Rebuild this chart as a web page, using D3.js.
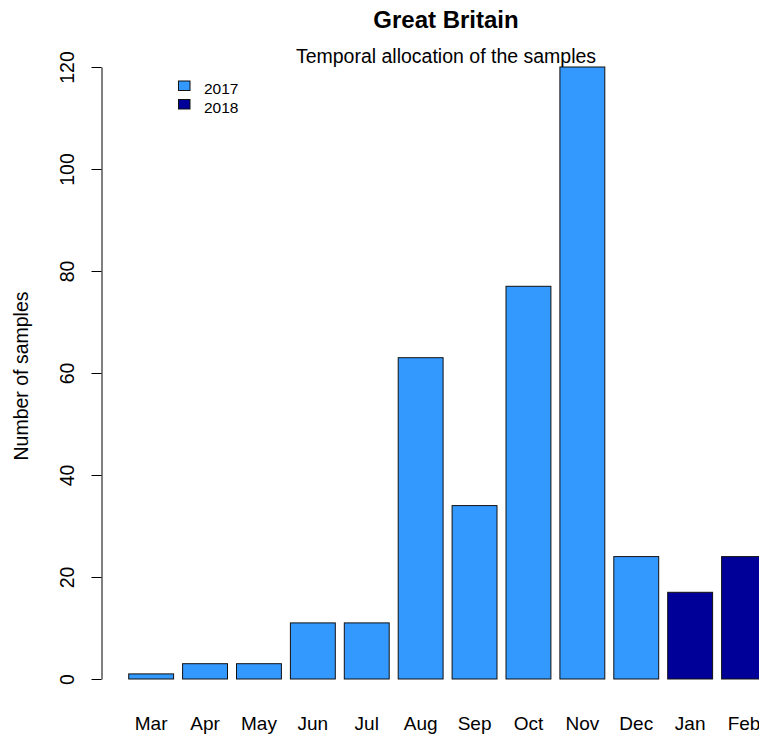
<!DOCTYPE html>
<html>
<head>
<meta charset="utf-8">
<script src="https://cdn.jsdelivr.net/npm/d3@7"></script>
<style>
  html, body { margin: 0; padding: 0; background: #fff; }
  svg { display: block; font-family: "Liberation Sans", Arial, sans-serif; }
</style>
</head>
<body>
<svg id="chart" width="759" height="736"></svg>
<script>
// Samples per month, March 2017 to February 2018
const months = ["Mar", "Apr", "May", "Jun", "Jul", "Aug", "Sep", "Oct", "Nov", "Dec", "Jan", "Feb"];
const samples = [1, 3, 3, 11, 11, 63, 34, 77, 120, 24, 17, 24];
const years = ["2017", "2017", "2017", "2017", "2017", "2017", "2017", "2017", "2017", "2017", "2018", "2018"];
const legendYears = ["2017", "2018"];
const yTicks = [0, 20, 40, 60, 80, 100, 120];

const colour = d3.scaleOrdinal().domain(legendYears).range(["#3399FF", "#000099"]);

const svg = d3.select("#chart");

// Bars: width 1 unit, space 0.2 units between them
const step = 53.9;
const pad = 9 / step;
const x = d3.scaleBand()
  .domain(months)
  .range([128.7 - pad / 2 * step, 128.7 - pad / 2 * step + months.length * step])
  .paddingInner(pad)
  .paddingOuter(pad / 2);

const y = d3.scaleLinear().domain([0, 120]).range([679, 67]);

// Bars
svg.append("g")
  .selectAll("rect")
  .data(months)
  .join("rect")
  .attr("x", d => x(d))
  .attr("y", (d, i) => y(samples[i]))
  .attr("width", x.bandwidth())
  .attr("height", (d, i) => y(0) - y(samples[i]))
  .attr("fill", (d, i) => colour(years[i]))
  .attr("stroke", "#111")
  .attr("stroke-width", 1);

// Y axis with rotated tick labels
const yAxis = svg.append("g")
  .attr("transform", "translate(101.5,0)")
  .call(d3.axisLeft(y).tickValues(yTicks).tickSize(10).tickSizeOuter(0).tickPadding(0));
yAxis.select(".domain").attr("stroke", "#000").attr("stroke-width", 1);
yAxis.selectAll(".tick line").attr("stroke", "#000");
yAxis.selectAll(".tick text")
  .attr("x", null).attr("dy", null)
  .attr("text-anchor", "middle")
  .attr("transform", "translate(-28,0) rotate(-90)")
  .style("font-size", "19.5px")
  .style("font-family", "Liberation Sans, Arial, sans-serif")
  .attr("fill", "#000");

// Month labels under the bars
svg.append("g")
  .selectAll("text")
  .data(months)
  .join("text")
  .attr("x", d => x(d) + x.bandwidth() / 2)
  .attr("y", 730)
  .attr("text-anchor", "middle")
  .style("font-size", "19px")
  .text(d => d);

// Y axis title
svg.append("text")
  .attr("transform", "translate(28,376) rotate(-90)")
  .attr("text-anchor", "middle")
  .style("font-size", "19.5px")
  .text("Number of samples");

// Titles
svg.append("text")
  .attr("x", 446).attr("y", 28)
  .attr("text-anchor", "middle")
  .style("font-size", "24px")
  .style("font-weight", "bold")
  .text("Great Britain");

svg.append("text")
  .attr("x", 446).attr("y", 63)
  .attr("text-anchor", "middle")
  .style("font-size", "19.5px")
  .text("Temporal allocation of the samples");

// Legend
const legend = svg.append("g")
  .selectAll("g")
  .data(legendYears)
  .join("g")
  .attr("transform", (d, i) => `translate(178.5,${81 + i * 18.5})`);
legend.append("rect")
  .attr("width", 11.5).attr("height", 9.5)
  .attr("fill", d => colour(d))
  .attr("stroke", "#111").attr("stroke-width", 1);
legend.append("text")
  .attr("x", 25.5).attr("y", 13)
  .style("font-size", "15.5px")
  .text(d => d);
</script>
</body>
</html>
